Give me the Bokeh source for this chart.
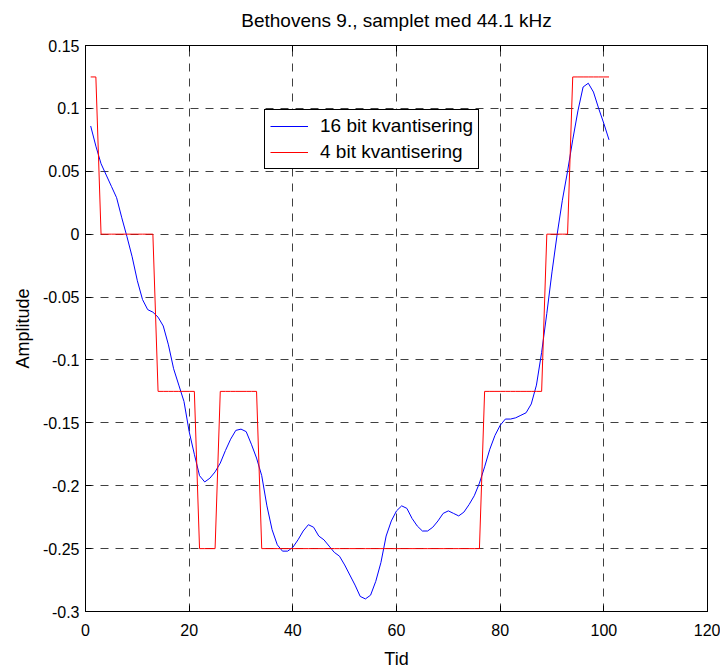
from bokeh.plotting import figure
from bokeh.models import Range1d, LinearAxis, FixedTicker, Legend, LegendItem
from bokeh.embed import file_html
from bokeh.resources import INLINE

# ---- data -------------------------------------------------------------
samples = list(range(1, 102))

amp16 = [
    0.086, 0.070, 0.056, 0.047, 0.038, 0.029, 0.013, -0.002, -0.018, -0.037,
    -0.052, -0.060, -0.062, -0.066, -0.073, -0.088, -0.107, -0.120, -0.133, -0.157,
    -0.175, -0.192, -0.197, -0.194, -0.189, -0.182, -0.172, -0.163, -0.156, -0.155,
    -0.157, -0.167, -0.178, -0.192, -0.216, -0.235, -0.247, -0.252, -0.252, -0.249,
    -0.243, -0.236, -0.231, -0.233, -0.240, -0.243, -0.248, -0.253, -0.256, -0.263,
    -0.271, -0.279, -0.288, -0.290, -0.287, -0.276, -0.261, -0.240, -0.228, -0.220,
    -0.216, -0.218, -0.226, -0.232, -0.236, -0.236, -0.233, -0.228, -0.222, -0.220,
    -0.222, -0.224, -0.221, -0.215, -0.208, -0.198, -0.185, -0.171, -0.160, -0.152,
    -0.147, -0.147, -0.146, -0.144, -0.142, -0.135, -0.120, -0.094, -0.063, -0.030,
    0.000, 0.027, 0.050, 0.075, 0.098, 0.117, 0.120, 0.113, 0.100, 0.088,
    0.075,
]

amp4 = [
    0.125, 0.125, 0, 0, 0, 0, 0, 0, 0, 0,
    0, 0, 0, -0.125, -0.125, -0.125, -0.125, -0.125, -0.125, -0.125,
    -0.125, -0.25, -0.25, -0.25, -0.25, -0.125, -0.125, -0.125, -0.125, -0.125,
    -0.125, -0.125, -0.125, -0.25, -0.25, -0.25, -0.25, -0.25, -0.25, -0.25,
    -0.25, -0.25, -0.25, -0.25, -0.25, -0.25, -0.25, -0.25, -0.25, -0.25,
    -0.25, -0.25, -0.25, -0.25, -0.25, -0.25, -0.25, -0.25, -0.25, -0.25,
    -0.25, -0.25, -0.25, -0.25, -0.25, -0.25, -0.25, -0.25, -0.25, -0.25,
    -0.25, -0.25, -0.25, -0.25, -0.25, -0.25, -0.125, -0.125, -0.125, -0.125,
    -0.125, -0.125, -0.125, -0.125, -0.125, -0.125, -0.125, -0.125, 0, 0,
    0, 0, 0, 0.125, 0.125, 0.125, 0.125, 0.125, 0.125, 0.125,
    0.125,
]

series_labels = ["16 bit kvantisering", "4 bit kvantisering"]
title_text = "Bethovens 9., samplet med 44.1 kHz"
x_label = "Tid"
y_label = "Amplitude"

x_ticks = [0, 20, 40, 60, 80, 100, 120]
y_ticks = [0.15, 0.1, 0.05, 0.0, -0.05, -0.1, -0.15, -0.2, -0.25, -0.3]
y_tick_labels = ["0.15", "0.1", "0.05", "0", "-0.05", "-0.1", "-0.15", "-0.2", "-0.25", "-0.3"]

FONT = "Liberation Sans"

# ---- figure -----------------------------------------------------------
p = figure(
    frame_width=622, frame_height=566,
    output_backend="svg", toolbar_location=None,
    x_range=Range1d(0, 120), y_range=Range1d(-0.3, 0.15),
    min_border_left=85, min_border_right=13, min_border_top=45, min_border_bottom=55,
    background_fill_color="white", border_fill_color="white",
)

p.outline_line_color = "black"
p.outline_line_alpha = 1.0
p.outline_line_width = 1

# grids
for g in (p.xgrid, p.ygrid):
    g.grid_line_color = "black"
    g.grid_line_alpha = 0.75
    g.grid_line_dash = "8 7"
    g.grid_line_width = 1
p.xgrid.ticker = FixedTicker(ticks=x_ticks)
p.ygrid.ticker = FixedTicker(ticks=y_ticks)

def style_axis(ax):
    ax.axis_line_color = "black"
    ax.axis_line_width = 1
    ax.major_tick_in = 6
    ax.major_tick_out = 0
    ax.major_tick_line_color = "black"
    ax.minor_tick_line_color = None
    ax.major_label_text_font = FONT
    ax.major_label_text_font_size = "16px"
    ax.major_label_text_color = "black"
    ax.axis_label_text_font = FONT
    ax.axis_label_text_font_size = "18px"
    ax.axis_label_text_font_style = "normal"
    ax.axis_label_text_color = "black"

xa = p.xaxis[0]
ya = p.yaxis[0]
xa.ticker = FixedTicker(ticks=x_ticks)
ya.ticker = FixedTicker(ticks=y_ticks)
ya.major_label_overrides = dict(zip(y_ticks, y_tick_labels))
style_axis(xa)
style_axis(ya)
xa.axis_label = x_label
ya.axis_label = y_label
xa.major_label_standoff = 12
ya.major_label_standoff = 6
xa.axis_label_standoff = 10
ya.axis_label_standoff = 7

# mirrored axes on top / right (ticks only); the top one carries the title
top = LinearAxis(ticker=FixedTicker(ticks=x_ticks))
right = LinearAxis(ticker=FixedTicker(ticks=y_ticks))
for ax in (top, right):
    style_axis(ax)
    ax.major_label_text_font_size = "0px"
    ax.major_label_standoff = 0
top.axis_label = title_text
top.axis_label_text_font_size = "19px"
top.axis_label_standoff = 15
p.add_layout(top, "above")
p.add_layout(right, "right")

# ---- lines ------------------------------------------------------------
r16 = p.line(samples, amp16, line_color="#0000ff", line_width=1)
r4 = p.line(samples, amp4, line_color="#ff0000", line_width=1)

legend = Legend(
    items=[LegendItem(label=series_labels[0], renderers=[r16]),
           LegendItem(label=series_labels[1], renderers=[r4])],
    location=(179, 442),
)
legend.border_line_color = "black"
legend.border_line_width = 1
legend.border_line_alpha = 1.0
legend.background_fill_color = "white"
legend.background_fill_alpha = 1.0
legend.padding = 5
legend.spacing = 4
legend.margin = 0
legend.glyph_width = 38
legend.glyph_height = 22
legend.label_height = 22
legend.label_standoff = 12
legend.label_text_font = FONT
legend.label_text_font_size = "19px"
legend.label_text_color = "black"
p.add_layout(legend)

open("out.html", "w").write(file_html(p, INLINE))
